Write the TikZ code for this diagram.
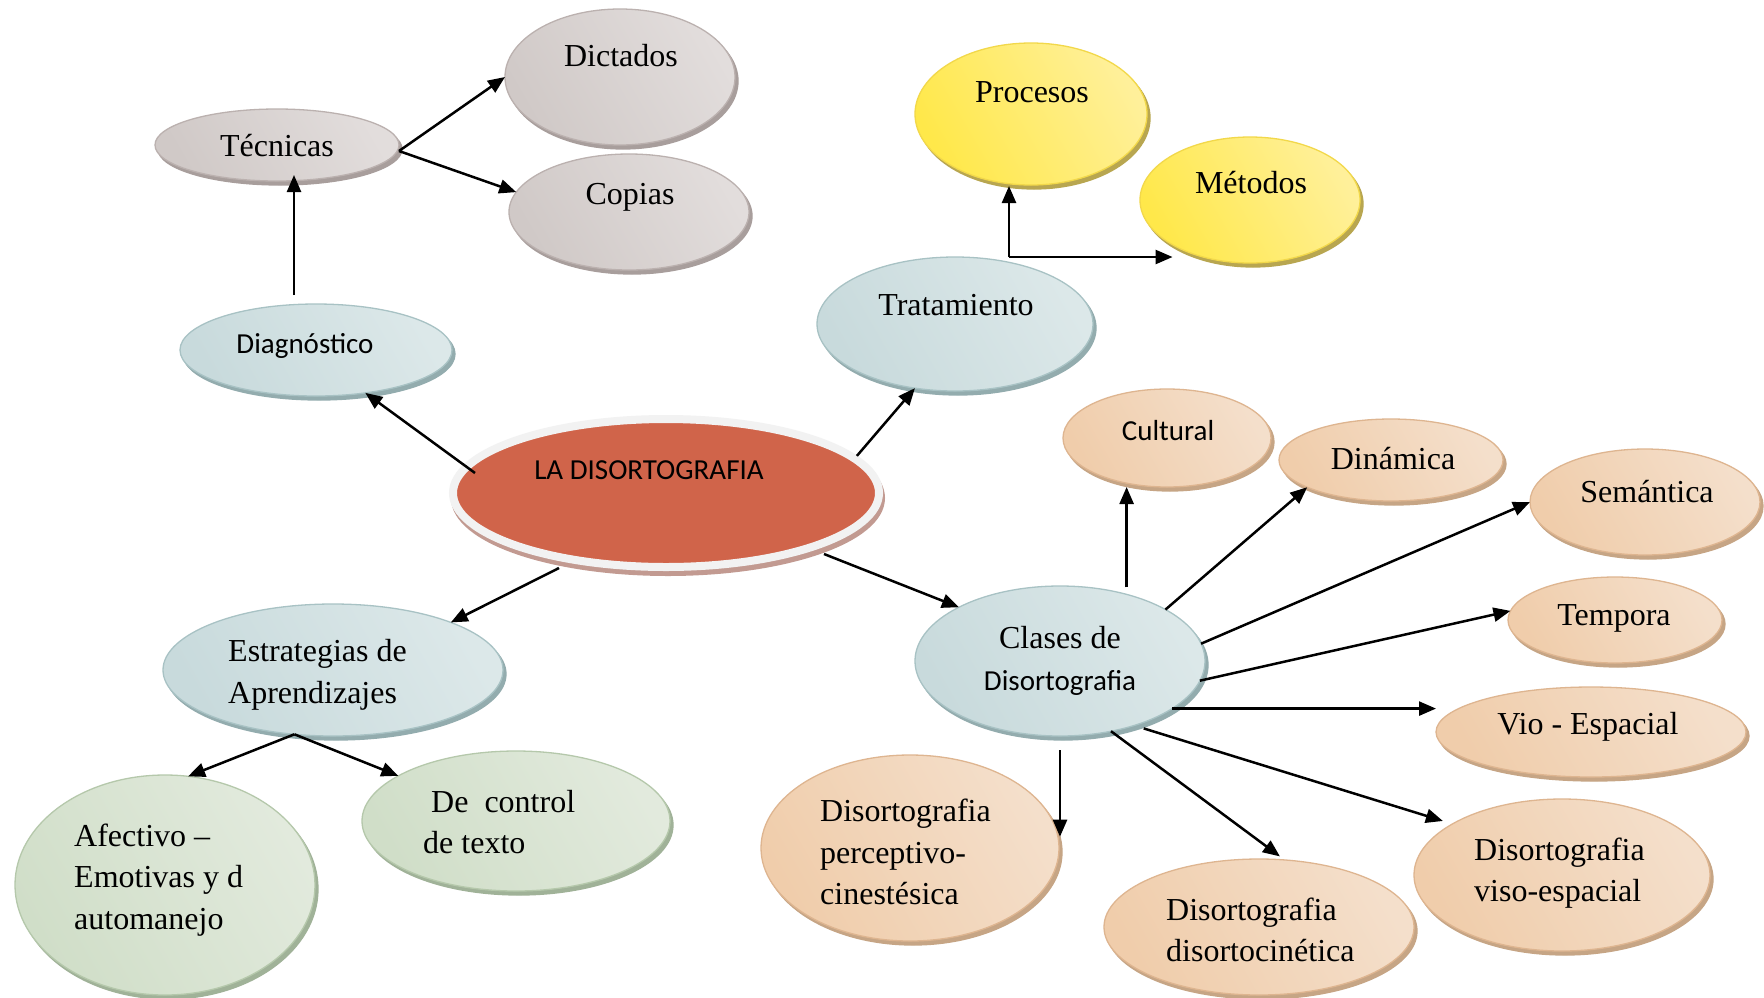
\documentclass[tikz,border=0pt]{standalone}
\usepackage{fontspec}
\setmainfont{Liberation Serif}
\newfontfamily\calib{Carlito}
\usetikzlibrary{shapes.geometric,arrows.meta,shadows,calc}
\definecolor{grD}{HTML}{D0C9C7}\definecolor{grL}{HTML}{EEEAE9}\definecolor{grM}{HTML}{E2DDDC}
\definecolor{grB}{HTML}{BBB1AF}\definecolor{grS}{HTML}{A89E9C}
\definecolor{blD}{HTML}{C8DADC}\definecolor{blL}{HTML}{EDF3F3}\definecolor{blM}{HTML}{DCE8E9}
\definecolor{blB}{HTML}{A8C2C4}\definecolor{blS}{HTML}{93ACAE}
\definecolor{yeD}{HTML}{FFE84A}\definecolor{yeL}{HTML}{FFF8C4}\definecolor{yeM}{HTML}{FFF09A}
\definecolor{yeB}{HTML}{F2D84A}\definecolor{yeS}{HTML}{B8A650}
\definecolor{peD}{HTML}{F0CDAB}\definecolor{peL}{HTML}{F9EDE2}\definecolor{peM}{HTML}{F4DFCB}
\definecolor{peB}{HTML}{DEB590}\definecolor{peS}{HTML}{C6A585}
\definecolor{gnD}{HTML}{D0DEC8}\definecolor{gnL}{HTML}{F0F4EE}\definecolor{gnM}{HTML}{E2EADD}
\definecolor{gnB}{HTML}{B5C8AB}\definecolor{gnS}{HTML}{A0B298}
\definecolor{laRed}{HTML}{D0644A}\definecolor{laRing}{HTML}{F2F2F2}\definecolor{laSh}{HTML}{C29A91}
\tikzset{
  bub/.style={ellipse, inner sep=0pt, outer sep=0pt, line width=1.3pt},
  sz/.style 2 args={minimum width=#1pt, minimum height=#2pt},
  grayb/.style={bub, draw=grB, left color=grD, middle color=grL, right color=grM, shading angle=120,
    copy shadow={shadow xshift=3pt, shadow yshift=-4pt, fill=grS, draw=grS}},
  blueb/.style={bub, draw=blB, left color=blD, middle color=blL, right color=blM, shading angle=120,
    copy shadow={shadow xshift=3pt, shadow yshift=-4pt, fill=blS, draw=blS}},
  yelb/.style={bub, draw=yeB, left color=yeD, middle color=yeL, right color=yeM, shading angle=120,
    copy shadow={shadow xshift=3pt, shadow yshift=-4pt, fill=yeS, draw=yeS}},
  peb/.style={bub, draw=peB, left color=peD, middle color=peL, right color=peM, shading angle=120,
    copy shadow={shadow xshift=3pt, shadow yshift=-4pt, fill=peS, draw=peS}},
  grnb/.style={bub, draw=gnB, left color=gnD, middle color=gnL, right color=gnM, shading angle=120,
    copy shadow={shadow xshift=3pt, shadow yshift=-4pt, fill=gnS, draw=gnS}},
  tnr/.style={font=\fontsize{32}{41.5}\selectfont, inner sep=0pt},
  cbr/.style={font=\calib\fontsize{29}{35}\selectfont, inner sep=0pt},
  arr/.style={-{Triangle[length=17pt,width=14pt]}, line width=2.5pt, black}
}
\begin{document}
\begin{tikzpicture}[x=1pt,y=-1pt]
\useasboundingbox (0,0) rectangle (1764,997);
\fill[white] (0,0) rectangle (1764,997);

% nodes
\node[grayb, sz={244}{72}] (tec) at (277,145) {};
\node[grayb, sz={230}{136}] (dic) at (620,77) {};
\node[grayb, sz={240}{116}] (cop) at (629,212) {};
\node[blueb, sz={272}{92}] (diag) at (316,350) {};
\node[yelb, sz={232}{142}] (pro) at (1031,114) {};
\node[yelb, sz={220}{126}] (met) at (1250,200) {};
\node[blueb, sz={276}{134}] (tra) at (955,324) {};
\node[ellipse, inner sep=0pt, minimum width=426pt, minimum height=148pt, fill=laRed, draw=laRing,
      line width=8pt, copy shadow={shadow xshift=2pt, shadow yshift=-5pt, fill=laSh, draw=laSh}] (la) at (666,493) {};
\node[peb, sz={208}{98}] (cul) at (1167,438) {};
\node[peb, sz={224}{82}] (din) at (1391,460) {};
\node[peb, sz={230}{106}] (sem) at (1645,502) {};
\node[peb, sz={214}{86}] (tem) at (1615,620) {};
\node[peb, sz={310}{90}] (vio) at (1591,732) {};
\node[peb, sz={296}{152}] (viso) at (1562,875) {};
\node[peb, sz={310}{136}] (cin) at (1259,927) {};
\node[peb, sz={298}{186}] (per) at (910,848) {};
\node[blueb, sz={290}{150}] (cla) at (1060,661) {};
\node[blueb, sz={340}{132}] (estr) at (333,670) {};
\node[grnb, sz={300}{220}] (afe) at (165,885) {};
\node[grnb, sz={308}{140}] (ctl) at (516,821) {};

% texts
\node[tnr] (tec-t) at (277,146) {Técnicas};
\node[tnr] (dic-t) at (621,56) {Dictados};
\node[tnr] (cop-t) at (630,197) {Copias};
\node[cbr] (diag-t) at (305,346) {Diagnóstico};
\node[tnr] (pro-t) at (1032,92) {Procesos};
\node[tnr] (met-t) at (1251,183) {Métodos};
\node[tnr] (tra-t) at (956,305) {Tratamiento};
\node[cbr] (la-t) at (649,470) {LA DISORTOGRAFIA};
\node[cbr] (cul-t) at (1168,431) {Cultural};
\node[tnr] (din-t) at (1393,459) {Dinámica};
\node[tnr] (sem-t) at (1647,492) {Semántica};
\node[tnr] (tem-t) at (1614,618) {Tempora};
\node[tnr] (vio-t) at (1588,727) {Vio - Espacial};
\node[tnr, align=center] (cla-t) at (1060,661) {Clases de\\{\calib\fontsize{29}{41.5}\selectfont Disortografia}};
\node[tnr, align=left, anchor=west] (viso-t) at (1474,873) {Disortografia\\viso-espacial};
\node[tnr, align=left, anchor=west] (cin-t) at (1166,930) {Disortografia\\disortocinética};
\node[tnr, align=left, anchor=west] (per-t) at (820,852) {Disortografia\\perceptivo-\\cinestésica};
\node[tnr, align=left, anchor=west] (estr-t) at (228,675) {Estrategias de\\Aprendizajes};
\node[tnr, align=left, anchor=west] (afe-t) at (74,880) {Afectivo –\\Emotivas y d\\automanejo};
\node[tnr, align=left, anchor=west] (ctl-t) at (423,822) {\hspace*{8pt}De\ \ control\\de texto};

% connectors
\draw[arr, shorten >=3pt] ([xshift=-22pt,yshift=9pt]diag.north) -- ([xshift=-22pt,yshift=9pt]diag.north |- tec.south);
\draw[arr] ([yshift=-6pt]tec.east) -- (dic.west);
\draw[arr] ([yshift=-6pt]tec.east) -- (cop.170);
\draw[arr] ([xshift=-191pt,yshift=20pt]la.center) -- (diag.-41);
\draw[arr] (la.11) -- (tra.-122);
\draw[arr] ([xshift=-107pt,yshift=-75pt]la.center) -- (estr.22);
\draw[arr] ([xshift=158pt,yshift=-61pt]la.center) -- (cla.152);
\coordinate (tj) at ([xshift=54pt]tra.north);
\draw[arr, shorten >=1pt] (tj) -- (tj |- pro.south);
\draw[arr] (tj) -- (tj -| met.-150);
\draw[arr] ([yshift=7pt]cla.45) -- (cla.45 |- cul.south);
\draw[arr] (cla.26) -- (din.-162);
\draw[arr] (cla.7) -- (sem.west);
\draw[arr] (cla.-8) -- (tem.175);
\draw[arr] (cla.-23) -- (cla.-23 -| vio.west);
\draw[arr, shorten <=10pt, shorten >=10pt] (cla.-41) -- (viso.155);
\draw[arr, shorten >=6pt] (cla.-54) -- (cin.69);
\draw[arr] ([yshift=-14pt]cla.south) -- ([yshift=-14pt]cla.south |- per.10);
\draw[arr] (estr.-121) -- (afe.78);
\draw[arr] (estr.-121) -- (ctl.159);
\end{tikzpicture}
\end{document}
